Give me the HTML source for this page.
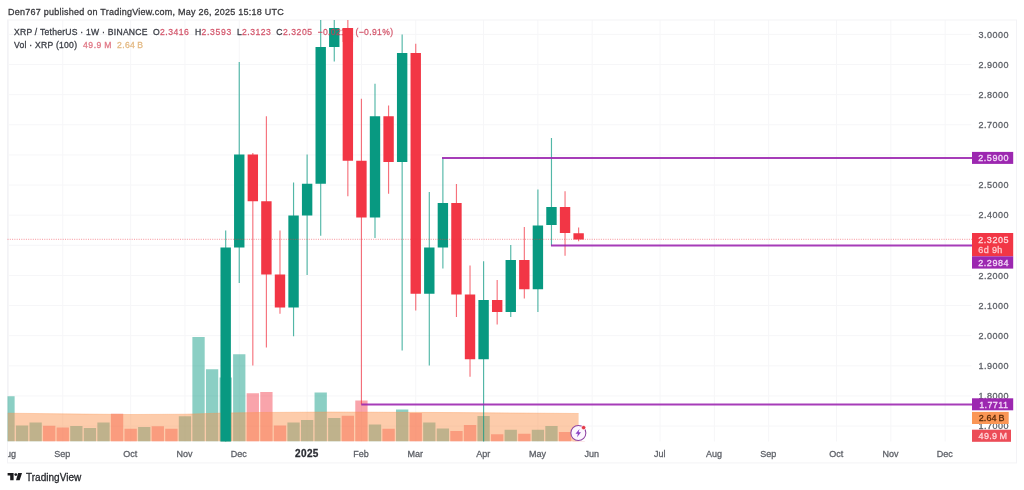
<!DOCTYPE html><html><head><meta charset="utf-8"><title>XRP chart</title>
<style>html,body{margin:0;padding:0;background:#fff;}body{width:1024px;height:490px;overflow:hidden;font-family:"Liberation Sans",sans-serif;}svg{display:block;position:absolute;left:0;top:0;filter:blur(0.35px);}text{font-family:"Liberation Sans",sans-serif;}</style></head><body>
<svg width="1024" height="490" viewBox="0 0 1024 490">
<defs><clipPath id="pane"><rect x="7.5" y="20" width="1009" height="421.5"/></clipPath></defs>
<rect x="0" y="0" width="1024" height="490" fill="#fff"/>
<g stroke="#f6f6f8" stroke-width="1" shape-rendering="auto">
<line x1="7.5" y1="34.40" x2="971.5" y2="34.40"/>
<line x1="7.5" y1="64.53" x2="971.5" y2="64.53"/>
<line x1="7.5" y1="94.66" x2="971.5" y2="94.66"/>
<line x1="7.5" y1="124.79" x2="971.5" y2="124.79"/>
<line x1="7.5" y1="154.92" x2="971.5" y2="154.92"/>
<line x1="7.5" y1="185.05" x2="971.5" y2="185.05"/>
<line x1="7.5" y1="215.18" x2="971.5" y2="215.18"/>
<line x1="7.5" y1="245.31" x2="971.5" y2="245.31"/>
<line x1="7.5" y1="275.44" x2="971.5" y2="275.44"/>
<line x1="7.5" y1="305.57" x2="971.5" y2="305.57"/>
<line x1="7.5" y1="335.70" x2="971.5" y2="335.70"/>
<line x1="7.5" y1="365.83" x2="971.5" y2="365.83"/>
<line x1="7.5" y1="395.96" x2="971.5" y2="395.96"/>
<line x1="7.5" y1="426.09" x2="971.5" y2="426.09"/>
<line x1="8.48" y1="20" x2="8.48" y2="441.5"/>
<line x1="62.78" y1="20" x2="62.78" y2="441.5"/>
<line x1="130.65" y1="20" x2="130.65" y2="441.5"/>
<line x1="184.95" y1="20" x2="184.95" y2="441.5"/>
<line x1="239.25" y1="20" x2="239.25" y2="441.5"/>
<line x1="307.12" y1="20" x2="307.12" y2="441.5"/>
<line x1="361.43" y1="20" x2="361.43" y2="441.5"/>
<line x1="415.73" y1="20" x2="415.73" y2="441.5"/>
<line x1="483.60" y1="20" x2="483.60" y2="441.5"/>
<line x1="537.90" y1="20" x2="537.90" y2="441.5"/>
<line x1="592.20" y1="20" x2="592.20" y2="441.5"/>
<line x1="660.08" y1="20" x2="660.08" y2="441.5"/>
<line x1="714.38" y1="20" x2="714.38" y2="441.5"/>
<line x1="768.67" y1="20" x2="768.67" y2="441.5"/>
<line x1="836.55" y1="20" x2="836.55" y2="441.5"/>
<line x1="890.85" y1="20" x2="890.85" y2="441.5"/>
<line x1="945.15" y1="20" x2="945.15" y2="441.5"/>
</g>
<rect x="7.5" y="20" width="1009" height="442.9" fill="none" stroke="#f3f3f6" stroke-width="1"/>
<g clip-path="url(#pane)">
<rect x="2.33" y="396.25" width="12.30" height="45.25" fill="rgba(8,153,129,0.47)"/>
<rect x="15.90" y="425.50" width="12.30" height="16.00" fill="rgba(8,153,129,0.47)"/>
<rect x="29.48" y="422.50" width="12.30" height="19.00" fill="rgba(8,153,129,0.47)"/>
<rect x="43.05" y="425.75" width="12.30" height="15.75" fill="rgba(242,54,69,0.45)"/>
<rect x="56.63" y="427.50" width="12.30" height="14.00" fill="rgba(242,54,69,0.45)"/>
<rect x="70.20" y="426.00" width="12.30" height="15.50" fill="rgba(8,153,129,0.47)"/>
<rect x="83.78" y="428.00" width="12.30" height="13.50" fill="rgba(8,153,129,0.47)"/>
<rect x="97.35" y="422.50" width="12.30" height="19.00" fill="rgba(8,153,129,0.47)"/>
<rect x="110.92" y="413.75" width="12.30" height="27.75" fill="rgba(242,54,69,0.45)"/>
<rect x="124.50" y="428.75" width="12.30" height="12.75" fill="rgba(242,54,69,0.45)"/>
<rect x="138.08" y="427.00" width="12.30" height="14.50" fill="rgba(8,153,129,0.47)"/>
<rect x="151.65" y="426.25" width="12.30" height="15.25" fill="rgba(242,54,69,0.45)"/>
<rect x="165.22" y="428.75" width="12.30" height="12.75" fill="rgba(242,54,69,0.45)"/>
<rect x="178.80" y="416.25" width="12.30" height="25.25" fill="rgba(8,153,129,0.47)"/>
<rect x="192.38" y="337.00" width="12.30" height="104.50" fill="rgba(8,153,129,0.47)"/>
<rect x="205.95" y="369.25" width="12.30" height="72.25" fill="rgba(8,153,129,0.47)"/>
<rect x="219.53" y="377.50" width="12.30" height="64.00" fill="rgba(8,153,129,0.47)"/>
<rect x="233.10" y="354.25" width="12.30" height="87.25" fill="rgba(8,153,129,0.47)"/>
<rect x="246.67" y="393.25" width="12.30" height="48.25" fill="rgba(242,54,69,0.45)"/>
<rect x="260.25" y="392.00" width="12.30" height="49.50" fill="rgba(242,54,69,0.45)"/>
<rect x="273.83" y="425.50" width="12.30" height="16.00" fill="rgba(242,54,69,0.45)"/>
<rect x="287.40" y="422.50" width="12.30" height="19.00" fill="rgba(8,153,129,0.47)"/>
<rect x="300.98" y="420.00" width="12.30" height="21.50" fill="rgba(8,153,129,0.47)"/>
<rect x="314.55" y="392.50" width="12.30" height="49.00" fill="rgba(8,153,129,0.47)"/>
<rect x="328.12" y="418.00" width="12.30" height="23.50" fill="rgba(8,153,129,0.47)"/>
<rect x="341.70" y="415.75" width="12.30" height="25.75" fill="rgba(242,54,69,0.45)"/>
<rect x="355.28" y="400.50" width="12.30" height="41.00" fill="rgba(242,54,69,0.45)"/>
<rect x="368.85" y="424.50" width="12.30" height="17.00" fill="rgba(8,153,129,0.47)"/>
<rect x="382.43" y="428.75" width="12.30" height="12.75" fill="rgba(242,54,69,0.45)"/>
<rect x="396.00" y="409.50" width="12.30" height="32.00" fill="rgba(8,153,129,0.47)"/>
<rect x="409.58" y="413.00" width="12.30" height="28.50" fill="rgba(242,54,69,0.45)"/>
<rect x="423.15" y="422.50" width="12.30" height="19.00" fill="rgba(8,153,129,0.47)"/>
<rect x="436.73" y="428.50" width="12.30" height="13.00" fill="rgba(8,153,129,0.47)"/>
<rect x="450.30" y="431.00" width="12.30" height="10.50" fill="rgba(242,54,69,0.45)"/>
<rect x="463.88" y="425.00" width="12.30" height="16.50" fill="rgba(242,54,69,0.45)"/>
<rect x="477.45" y="416.00" width="12.30" height="25.50" fill="rgba(8,153,129,0.47)"/>
<rect x="491.03" y="434.25" width="12.30" height="7.25" fill="rgba(242,54,69,0.45)"/>
<rect x="504.60" y="429.75" width="12.30" height="11.75" fill="rgba(8,153,129,0.47)"/>
<rect x="518.18" y="433.75" width="12.30" height="7.75" fill="rgba(242,54,69,0.45)"/>
<rect x="531.75" y="429.75" width="12.30" height="11.75" fill="rgba(8,153,129,0.47)"/>
<rect x="545.32" y="426.00" width="12.30" height="15.50" fill="rgba(8,153,129,0.47)"/>
<rect x="558.90" y="432.00" width="12.30" height="9.50" fill="rgba(242,54,69,0.45)"/>
<rect x="572.48" y="441.00" width="12.30" height="0.50" fill="rgba(242,54,69,0.45)"/>
<path d="M7.5,441.5 L7.50,413.20 L60.00,413.80 L130.00,414.50 L185.00,414.20 L225.00,413.00 L260.00,412.50 L330.00,412.00 L400.00,412.30 L460.00,412.60 L520.00,413.00 L578.60,413.50 L578.6,441.5 Z" fill="rgba(251,146,76,0.47)"/>
<path d="M7.50,413.20 L60.00,413.80 L130.00,414.50 L185.00,414.20 L225.00,413.00 L260.00,412.50 L330.00,412.00 L400.00,412.30 L460.00,412.60 L520.00,413.00 L578.60,413.50" fill="none" stroke="rgba(251,146,76,0.35)" stroke-width="1"/>
<line x1="225.68" y1="230.50" x2="225.68" y2="460.00" stroke="#089981" stroke-width="1.15" stroke-opacity="0.7"/>
<rect x="220.48" y="247.50" width="10.40" height="212.50" fill="#089981"/>
<line x1="239.25" y1="62.00" x2="239.25" y2="283.00" stroke="#089981" stroke-width="1.15" stroke-opacity="0.7"/>
<rect x="234.05" y="154.50" width="10.40" height="93.00" fill="#089981"/>
<line x1="252.82" y1="153.00" x2="252.82" y2="365.50" stroke="#f23645" stroke-width="1.15" stroke-opacity="0.7"/>
<rect x="247.62" y="154.50" width="10.40" height="46.75" fill="#f23645"/>
<line x1="266.40" y1="116.25" x2="266.40" y2="347.50" stroke="#f23645" stroke-width="1.15" stroke-opacity="0.7"/>
<rect x="261.20" y="201.25" width="10.40" height="73.25" fill="#f23645"/>
<line x1="279.98" y1="230.50" x2="279.98" y2="313.75" stroke="#f23645" stroke-width="1.15" stroke-opacity="0.7"/>
<rect x="274.78" y="274.50" width="10.40" height="33.00" fill="#f23645"/>
<line x1="293.55" y1="182.50" x2="293.55" y2="336.25" stroke="#089981" stroke-width="1.15" stroke-opacity="0.7"/>
<rect x="288.35" y="215.50" width="10.40" height="92.00" fill="#089981"/>
<line x1="307.12" y1="154.50" x2="307.12" y2="275.00" stroke="#089981" stroke-width="1.15" stroke-opacity="0.7"/>
<rect x="301.93" y="183.75" width="10.40" height="31.75" fill="#089981"/>
<line x1="320.70" y1="0.00" x2="320.70" y2="235.75" stroke="#089981" stroke-width="1.15" stroke-opacity="0.7"/>
<rect x="315.50" y="47.00" width="10.40" height="136.75" fill="#089981"/>
<line x1="334.27" y1="0.00" x2="334.27" y2="61.50" stroke="#089981" stroke-width="1.15" stroke-opacity="0.7"/>
<rect x="329.07" y="28.00" width="10.40" height="19.00" fill="#089981"/>
<line x1="347.85" y1="0.00" x2="347.85" y2="196.25" stroke="#f23645" stroke-width="1.15" stroke-opacity="0.7"/>
<rect x="342.65" y="28.00" width="10.40" height="132.75" fill="#f23645"/>
<line x1="361.43" y1="98.75" x2="361.43" y2="404.50" stroke="#f23645" stroke-width="1.15" stroke-opacity="0.7"/>
<rect x="356.23" y="160.75" width="10.40" height="56.75" fill="#f23645"/>
<line x1="375.00" y1="83.75" x2="375.00" y2="238.00" stroke="#089981" stroke-width="1.15" stroke-opacity="0.7"/>
<rect x="369.80" y="116.25" width="10.40" height="101.25" fill="#089981"/>
<line x1="388.57" y1="105.50" x2="388.57" y2="193.75" stroke="#f23645" stroke-width="1.15" stroke-opacity="0.7"/>
<rect x="383.38" y="116.25" width="10.40" height="45.75" fill="#f23645"/>
<line x1="402.15" y1="34.50" x2="402.15" y2="350.50" stroke="#089981" stroke-width="1.15" stroke-opacity="0.7"/>
<rect x="396.95" y="53.00" width="10.40" height="109.00" fill="#089981"/>
<line x1="415.73" y1="43.75" x2="415.73" y2="310.50" stroke="#f23645" stroke-width="1.15" stroke-opacity="0.7"/>
<rect x="410.53" y="53.00" width="10.40" height="240.75" fill="#f23645"/>
<line x1="429.30" y1="192.00" x2="429.30" y2="365.50" stroke="#089981" stroke-width="1.15" stroke-opacity="0.7"/>
<rect x="424.10" y="247.50" width="10.40" height="46.25" fill="#089981"/>
<line x1="442.88" y1="158.00" x2="442.88" y2="268.50" stroke="#089981" stroke-width="1.15" stroke-opacity="0.7"/>
<rect x="437.68" y="203.00" width="10.40" height="44.50" fill="#089981"/>
<line x1="456.45" y1="184.00" x2="456.45" y2="317.00" stroke="#f23645" stroke-width="1.15" stroke-opacity="0.7"/>
<rect x="451.25" y="203.00" width="10.40" height="91.50" fill="#f23645"/>
<line x1="470.02" y1="265.50" x2="470.02" y2="376.75" stroke="#f23645" stroke-width="1.15" stroke-opacity="0.7"/>
<rect x="464.82" y="294.50" width="10.40" height="64.75" fill="#f23645"/>
<line x1="483.60" y1="261.25" x2="483.60" y2="470.00" stroke="#089981" stroke-width="1.15" stroke-opacity="0.7"/>
<rect x="478.40" y="300.00" width="10.40" height="59.25" fill="#089981"/>
<line x1="497.18" y1="280.00" x2="497.18" y2="324.50" stroke="#f23645" stroke-width="1.15" stroke-opacity="0.7"/>
<rect x="491.98" y="300.00" width="10.40" height="12.00" fill="#f23645"/>
<line x1="510.75" y1="245.00" x2="510.75" y2="317.00" stroke="#089981" stroke-width="1.15" stroke-opacity="0.7"/>
<rect x="505.55" y="260.00" width="10.40" height="52.00" fill="#089981"/>
<line x1="524.33" y1="227.00" x2="524.33" y2="298.50" stroke="#f23645" stroke-width="1.15" stroke-opacity="0.7"/>
<rect x="519.12" y="260.00" width="10.40" height="29.25" fill="#f23645"/>
<line x1="537.90" y1="189.50" x2="537.90" y2="312.00" stroke="#089981" stroke-width="1.15" stroke-opacity="0.7"/>
<rect x="532.70" y="225.50" width="10.40" height="63.75" fill="#089981"/>
<line x1="551.47" y1="138.00" x2="551.47" y2="245.50" stroke="#089981" stroke-width="1.15" stroke-opacity="0.7"/>
<rect x="546.27" y="207.00" width="10.40" height="18.00" fill="#089981"/>
<line x1="565.05" y1="191.25" x2="565.05" y2="255.75" stroke="#f23645" stroke-width="1.15" stroke-opacity="0.7"/>
<rect x="559.85" y="207.00" width="10.40" height="26.00" fill="#f23645"/>
<line x1="578.62" y1="227.50" x2="578.62" y2="241.25" stroke="#f23645" stroke-width="1.15" stroke-opacity="0.7"/>
<rect x="573.42" y="233.25" width="10.40" height="6.25" fill="#f23645"/>
</g>
<line x1="7.5" y1="239.3" x2="972" y2="239.3" stroke="#f23645" stroke-opacity="0.6" stroke-width="0.9" stroke-dasharray="1 1.3"/>
<line x1="442" y1="158" x2="972" y2="158" stroke="#9c27b0" stroke-width="1.9" stroke-opacity="0.9"/>
<line x1="442" y1="158" x2="442" y2="158" stroke="#9c27b0"/>
<line x1="551" y1="245.5" x2="972" y2="245.5" stroke="#9c27b0" stroke-width="1.9" stroke-opacity="0.9"/>
<line x1="361.3" y1="404.5" x2="972" y2="404.5" stroke="#9c27b0" stroke-width="1.9" stroke-opacity="0.9"/>
<text x="978.50" y="37.60" font-size="9" fill="#5e6168" stroke="#5e6168" stroke-width="0.28" textLength="30.1" lengthAdjust="spacing">3.0000</text>
<text x="978.50" y="67.73" font-size="9" fill="#5e6168" stroke="#5e6168" stroke-width="0.28" textLength="30.1" lengthAdjust="spacing">2.9000</text>
<text x="978.50" y="97.86" font-size="9" fill="#5e6168" stroke="#5e6168" stroke-width="0.28" textLength="30.1" lengthAdjust="spacing">2.8000</text>
<text x="978.50" y="127.99" font-size="9" fill="#5e6168" stroke="#5e6168" stroke-width="0.28" textLength="30.1" lengthAdjust="spacing">2.7000</text>
<text x="978.50" y="188.25" font-size="9" fill="#5e6168" stroke="#5e6168" stroke-width="0.28" textLength="30.1" lengthAdjust="spacing">2.5000</text>
<text x="978.50" y="218.38" font-size="9" fill="#5e6168" stroke="#5e6168" stroke-width="0.28" textLength="30.1" lengthAdjust="spacing">2.4000</text>
<text x="978.50" y="278.64" font-size="9" fill="#5e6168" stroke="#5e6168" stroke-width="0.28" textLength="30.1" lengthAdjust="spacing">2.2000</text>
<text x="978.50" y="308.77" font-size="9" fill="#5e6168" stroke="#5e6168" stroke-width="0.28" textLength="30.1" lengthAdjust="spacing">2.1000</text>
<text x="978.50" y="338.90" font-size="9" fill="#5e6168" stroke="#5e6168" stroke-width="0.28" textLength="30.1" lengthAdjust="spacing">2.0000</text>
<text x="978.50" y="369.03" font-size="9" fill="#5e6168" stroke="#5e6168" stroke-width="0.28" textLength="30.1" lengthAdjust="spacing">1.9000</text>
<text x="978.50" y="399.16" font-size="9" fill="#5e6168" stroke="#5e6168" stroke-width="0.28" textLength="30.1" lengthAdjust="spacing">1.8000</text>
<text x="978.50" y="429.29" font-size="9" fill="#5e6168" stroke="#5e6168" stroke-width="0.28" textLength="30.1" lengthAdjust="spacing">1.7000</text>
<g clip-path="url(#tclip)">
<clipPath id="tclip"><rect x="8" y="442" width="1009" height="21"/></clipPath>
<text x="8.08" y="456.50" font-size="9" fill="#5e6168" stroke="#5e6168" stroke-width="0.28" text-anchor="middle">Aug</text>
<text x="62.38" y="456.50" font-size="9" fill="#5e6168" stroke="#5e6168" stroke-width="0.28" text-anchor="middle">Sep</text>
<text x="130.25" y="456.50" font-size="9" fill="#5e6168" stroke="#5e6168" stroke-width="0.28" text-anchor="middle">Oct</text>
<text x="184.55" y="456.50" font-size="9" fill="#5e6168" stroke="#5e6168" stroke-width="0.28" text-anchor="middle">Nov</text>
<text x="238.85" y="456.50" font-size="9" fill="#5e6168" stroke="#5e6168" stroke-width="0.28" text-anchor="middle">Dec</text>
<text x="306.73" y="456.80" font-size="10" fill="#2a2c33" stroke="#2a2c33" stroke-width="0.28" text-anchor="middle" textLength="23.4" lengthAdjust="spacing" font-weight="bold">2025</text>
<text x="361.03" y="456.50" font-size="9" fill="#5e6168" stroke="#5e6168" stroke-width="0.28" text-anchor="middle">Feb</text>
<text x="415.33" y="456.50" font-size="9" fill="#5e6168" stroke="#5e6168" stroke-width="0.28" text-anchor="middle">Mar</text>
<text x="483.20" y="456.50" font-size="9" fill="#5e6168" stroke="#5e6168" stroke-width="0.28" text-anchor="middle">Apr</text>
<text x="537.50" y="456.50" font-size="9" fill="#5e6168" stroke="#5e6168" stroke-width="0.28" text-anchor="middle">May</text>
<text x="591.80" y="456.50" font-size="9" fill="#5e6168" stroke="#5e6168" stroke-width="0.28" text-anchor="middle">Jun</text>
<text x="659.68" y="456.50" font-size="9" fill="#5e6168" stroke="#5e6168" stroke-width="0.28" text-anchor="middle">Jul</text>
<text x="713.98" y="456.50" font-size="9" fill="#5e6168" stroke="#5e6168" stroke-width="0.28" text-anchor="middle">Aug</text>
<text x="768.27" y="456.50" font-size="9" fill="#5e6168" stroke="#5e6168" stroke-width="0.28" text-anchor="middle">Sep</text>
<text x="836.15" y="456.50" font-size="9" fill="#5e6168" stroke="#5e6168" stroke-width="0.28" text-anchor="middle">Oct</text>
<text x="890.45" y="456.50" font-size="9" fill="#5e6168" stroke="#5e6168" stroke-width="0.28" text-anchor="middle">Nov</text>
<text x="944.75" y="456.50" font-size="9" fill="#5e6168" stroke="#5e6168" stroke-width="0.28" text-anchor="middle">Dec</text>
</g>
<rect x="972.00" y="151.90" width="41.20" height="12.00" fill="#9c27b0"/>
<text x="978.30" y="161.20" font-size="9" fill="#f3d9f8" stroke="#f3d9f8" stroke-width="0.28" textLength="30.2" lengthAdjust="spacing">2.5900</text>
<rect x="972.00" y="233.00" width="41.20" height="23.30" fill="#f23645"/>
<text x="978.30" y="242.50" font-size="9" fill="#ffd8dc" stroke="#ffd8dc" stroke-width="0.28" textLength="30.2" lengthAdjust="spacing">2.3205</text>
<text x="978.30" y="253.00" font-size="9" fill="#ffc9ce" stroke="#ffc9ce" stroke-width="0.28" textLength="24" lengthAdjust="spacing">6d 9h</text>
<rect x="972.00" y="256.30" width="41.20" height="12.30" fill="#9c27b0"/>
<text x="978.30" y="265.80" font-size="9" fill="#f3d9f8" stroke="#f3d9f8" stroke-width="0.28" textLength="30.2" lengthAdjust="spacing">2.2984</text>
<rect x="972.00" y="398.30" width="41.20" height="12.00" fill="#9c27b0"/>
<text x="979.20" y="407.70" font-size="9" fill="#f3d9f8" stroke="#f3d9f8" stroke-width="0.28" textLength="28.7" lengthAdjust="spacing">1.7711</text>
<rect x="972.00" y="411.90" width="36.70" height="12.10" fill="#fa9655"/>
<text x="978.70" y="421.20" font-size="9" fill="#5a2a08" stroke="#5a2a08" stroke-width="0.28" textLength="25.8" lengthAdjust="spacing">2.64 B</text>
<rect x="972.00" y="429.70" width="39.00" height="12.10" fill="#ec4c57"/>
<text x="978.60" y="439.00" font-size="9" fill="#ffd8dc" stroke="#ffd8dc" stroke-width="0.28" textLength="28.4" lengthAdjust="spacing">49.9 M</text>
<text x="8.00" y="15.00" font-size="9" fill="#3a3a3e" stroke="#3a3a3e" stroke-width="0.28" textLength="275.8" lengthAdjust="spacing">Den767 published on TradingView.com, May 26, 2025 15:18 UTC</text>
<text x="14.00" y="35.20" font-size="8.6" fill="#3a3d45" stroke="#3a3d45" stroke-width="0.28" textLength="133.5" lengthAdjust="spacing">XRP / TetherUS · 1W · BINANCE</text>
<text x="153.00" y="35.20" font-size="8.6" fill="#3a3d45" stroke="#3a3d45" stroke-width="0.28">O</text>
<text x="160.00" y="35.20" font-size="8.6" fill="rgba(205,60,85,0.78)" stroke="rgba(205,60,85,0.78)" stroke-width="0.28" textLength="28.8" lengthAdjust="spacing">2.3416</text>
<text x="195.00" y="35.20" font-size="8.6" fill="#3a3d45" stroke="#3a3d45" stroke-width="0.28">H</text>
<text x="201.50" y="35.20" font-size="8.6" fill="rgba(205,60,85,0.78)" stroke="rgba(205,60,85,0.78)" stroke-width="0.28" textLength="29.7" lengthAdjust="spacing">2.3593</text>
<text x="237.00" y="35.20" font-size="8.6" fill="#3a3d45" stroke="#3a3d45" stroke-width="0.28">L</text>
<text x="242.00" y="35.20" font-size="8.6" fill="rgba(205,60,85,0.78)" stroke="rgba(205,60,85,0.78)" stroke-width="0.28" textLength="28.8" lengthAdjust="spacing">2.3123</text>
<text x="276.30" y="35.20" font-size="8.6" fill="#3a3d45" stroke="#3a3d45" stroke-width="0.28">C</text>
<text x="283.00" y="35.20" font-size="8.6" fill="rgba(205,60,85,0.78)" stroke="rgba(205,60,85,0.78)" stroke-width="0.28" textLength="29" lengthAdjust="spacing">2.3205</text>
<text x="317.50" y="35.20" font-size="8.6" fill="rgba(205,60,85,0.78)" stroke="rgba(205,60,85,0.78)" stroke-width="0.28" textLength="33.5" lengthAdjust="spacing">−0.0213</text>
<text x="355.50" y="35.20" font-size="8.6" fill="rgba(205,60,85,0.78)" stroke="rgba(205,60,85,0.78)" stroke-width="0.28" textLength="37.5" lengthAdjust="spacing">(−0.91%)</text>
<text x="14.00" y="48.00" font-size="8.6" fill="#3a3d45" stroke="#3a3d45" stroke-width="0.28" textLength="63" lengthAdjust="spacing">Vol · XRP (100)</text>
<text x="83.00" y="48.00" font-size="8.6" fill="#e07886" stroke="#e07886" stroke-width="0.28" textLength="28.3" lengthAdjust="spacing">49.9 M</text>
<text x="117.00" y="48.00" font-size="8.6" fill="#e3b984" stroke="#e3b984" stroke-width="0.28" textLength="26" lengthAdjust="spacing">2.64 B</text>
<rect x="342.65" y="28" width="10.40" height="14" fill="#f23645"/>
<circle cx="578.35" cy="433" r="7.5" fill="#fcf6fe" stroke="#8e44a3" stroke-width="1.05"/>
<path d="M579.5,428.9 L575.5,433.8 L577.9,433.8 L577.0,437.3 L581.0,432.3 L578.6,432.3 Z" fill="#8a3fc4"/>
<circle cx="583.6" cy="427.6" r="2.2" fill="#e33a4a" stroke="#fff" stroke-width="0.7"/>
<g fill="#1c1c1f" transform="translate(0,0.5)"><path d="M7.6,472.6 h6 v7.2 h-3.4 v-4.8 h-2.6 Z"/><circle cx="15.8" cy="474.1" r="1.4"/><path d="M18.1,472.6 L22,472.6 L19.7,479.8 L16,479.8 Z"/></g>
<text x="25.90" y="480.90" font-size="10" fill="#26282d" stroke="#26282d" stroke-width="0.28" textLength="55.4" lengthAdjust="spacing">TradingView</text>
</svg></body></html>
